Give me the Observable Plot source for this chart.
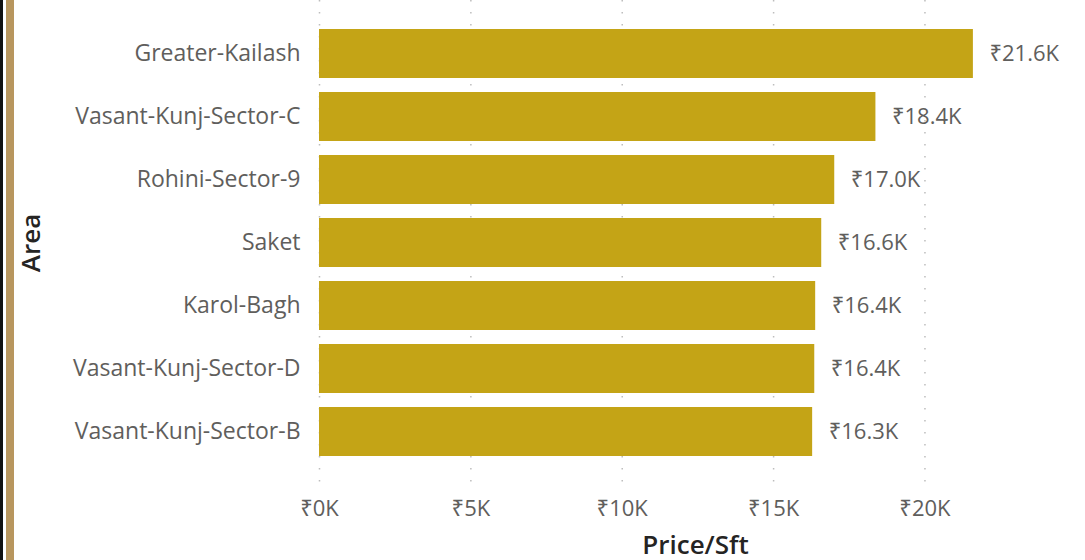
<!DOCTYPE html>
<html>
<head>
<meta charset="utf-8">
<script src="https://cdn.jsdelivr.net/npm/d3@7"></script>
<script src="https://cdn.jsdelivr.net/npm/@observablehq/plot@0.6"></script>
<style>
  html, body { margin: 0; padding: 0; background: #fff; }
  #wrap { position: relative; width: 1085px; height: 560px; overflow: hidden; }
  #b1 { position: absolute; left: 0; top: 0; width: 3px; height: 560px; background: #111; }
  #b2 { position: absolute; left: 6px; top: 0; width: 8px; height: 560px; background: #B8965E; }
  #chart { position: absolute; left: 0; top: 0; }
</style>
</head>
<body>
<div id="wrap">
  <div id="chart"></div>
  <div id="b1"></div>
  <div id="b2"></div>
</div>
<script>
const areas = ["Greater-Kailash", "Vasant-Kunj-Sector-C", "Rohini-Sector-9", "Saket", "Karol-Bagh", "Vasant-Kunj-Sector-D", "Vasant-Kunj-Sector-B"];
const prices = [21600, 18380, 17020, 16590, 16390, 16360, 16290];
const xTicks = [0, 5000, 10000, 15000, 20000];

const data = areas.map((a, i) => ({area: a, price: prices[i]}));
const fmtK = v => "\u20B9" + (v / 1000).toFixed(1) + "K";
const fmtTick = v => "\u20B9" + Math.round(v / 1000) + "K";
const font = "'Open Sans', 'Noto Sans', sans-serif";

const chart = Plot.plot({
  width: 1085,
  height: 560,
  marginLeft: 319,
  marginRight: 100,
  marginTop: 0,
  marginBottom: 75,
  style: {fontFamily: font, background: "transparent"},
  x: {domain: [0, 22000]},
  y: {domain: areas, paddingInner: 0.22, paddingOuter: 0.4},
  marks: [
    Plot.gridX(xTicks, {stroke: "#bdbdbd", strokeOpacity: 1, strokeWidth: 1.5, strokeDasharray: "1.5,10.5"}),
    Plot.barX(data, {x: "price", y: "area", fill: "#C4A416"}),
    Plot.text(data, {x: "price", y: "area", text: d => fmtK(d.price), textAnchor: "start", dx: 16, fill: "#605E5C", fontSize: 22}),
    Plot.axisX({ticks: xTicks, tickFormat: fmtTick, tickSize: 0, tickPadding: 15, fontSize: 22, color: "#605E5C", label: null}),
    Plot.axisY({tickSize: 0, tickPadding: 19, fontSize: 23, color: "#605E5C", label: null}),
    Plot.text(["Price/Sft"], {frameAnchor: "bottom", dx: 43, dy: 68, fontSize: 26, fontWeight: 600, fill: "#252423"}),
    Plot.text(["Area"], {frameAnchor: "left", textAnchor: "middle", dx: -288, rotate: -90, fontSize: 26, fontWeight: 600, fill: "#252423"})
  ]
});
document.getElementById("chart").appendChild(chart);
</script>
</body>
</html>
